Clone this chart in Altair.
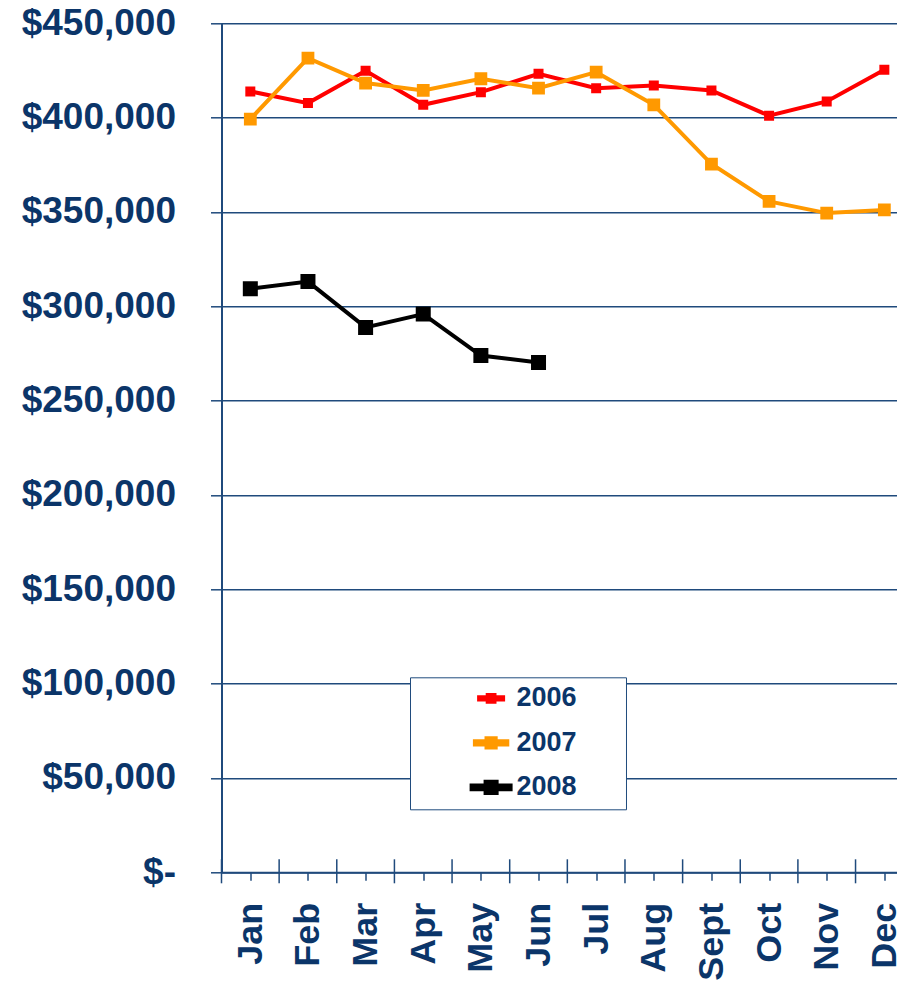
import json
import altair as alt
import pandas as pd

months = ["Jan", "Feb", "Mar", "Apr", "May", "Jun", "Jul", "Aug", "Sept", "Oct", "Nov", "Dec"]
years = ["2006", "2007", "2008"]
v2006 = [413900, 407700, 424800, 406800, 413500, 423200, 415600, 417000, 414400, 401000, 408600, 425400]
v2007 = [399200, 431500, 418300, 414400, 420600, 415600, 424100, 406800, 375400, 355600, 349400, 351100]
v2008 = [309300, 313100, 288800, 295900, 273900, 270200]
series_colors = ["#ff0000", "#ff9900", "#000000"]
line_widths = [4, 4, 2.5]
marker_sizes = [64, 169, 130]
y_ticks = [0, 50000, 100000, 150000, 200000, 250000, 300000, 350000, 400000, 450000]

rows = []
for yr, vals in zip(years, [v2006, v2007, v2008]):
    for i, v in enumerate(vals):
        rows.append({"mi": i, "month": months[i], "year": yr, "price": v})
df = pd.DataFrame(rows)
mdf = pd.DataFrame({"mi": list(range(len(months))), "month": months})

NAVY = "#0b3569"
GRID = "#1f4a7c"
FONT = "Liberation Sans"
PAD_L = 213.5
W, H = 889 - PAD_L, 849
STEP = 57.64  # pixel width of one month slot

xscale = alt.Scale(domain=[-0.5, W / STEP - 0.5], nice=False, zero=False)
xaxis = alt.Axis(title=None, values=list(range(len(months))),
                 labelExpr=json.dumps(months).replace('"', "'") + "[datum.value]",
                 labelAngle=270, labelFontSize=36, labelFont=FONT, labelFontWeight="bold",
                 labelColor=NAVY, labelPadding=22, tickSize=8, tickColor=GRID,
                 tickWidth=1.5, domainColor=GRID, domainWidth=2, grid=False)
yaxis = alt.Axis(title=None, values=y_ticks, labelExpr="datum.value == 0 ? '$-' : '$' + format(datum.value, ',')",
                 labelFontSize=37, labelFont=FONT, labelFontWeight="bold", labelColor=NAVY, labelPadding=35,
                 tickSize=11, tickColor=GRID, tickWidth=1.5, domainColor=GRID, domainWidth=2,
                 grid=True, gridColor=GRID, gridWidth=1.5)
yscale = alt.Scale(domain=[0, 450000], nice=False)

legend = alt.Legend(
    title="000", titleOrient="right", titleOpacity=0, titleFontSize=25, titlePadding=0,
    orient="none", legendX=188.5, legendY=654,
    symbolType=("M-3,-0.3H3V0.3H-3Z"
                "M-0.85,-0.85H0.85V0.85H-0.85Z"),
    symbolSize=400, symbolStrokeWidth=0.5,
    symbolOffset=60, labelOffset=12,
    labelFontSize=27, labelFont=FONT, labelFontWeight="bold", labelColor=NAVY,
    rowPadding=16.5, padding=7.6, fillColor="white", strokeColor=GRID,
)
cscale = alt.Scale(domain=years, range=series_colors)

x_enc = alt.X("mi:Q", scale=xscale, axis=xaxis)
y_enc = alt.Y("price:Q", scale=yscale, axis=yaxis)

lines = alt.Chart(df).mark_line().encode(
    x=x_enc, y=y_enc,
    stroke=alt.Stroke("year:N", scale=cscale, legend=legend),
    strokeWidth=alt.StrokeWidth("year:N", scale=alt.Scale(domain=years, range=line_widths), legend=None),
)
points = alt.Chart(df).mark_point(shape="square", opacity=1, fillOpacity=1).encode(
    x=x_enc, y=y_enc,
    fill=alt.Fill("year:N", scale=cscale, legend=None),
    stroke=alt.Stroke("year:N", scale=cscale, legend=None),
    size=alt.Size("year:N", scale=alt.Scale(domain=years, range=marker_sizes), legend=None),
)
# month-slot boundaries: tick marks that cross the x axis
major = alt.Chart(mdf).transform_calculate(edge="datum.mi - 0.5").mark_rule(
    color=GRID, strokeWidth=1.5).encode(
    x=alt.X("edge:Q", scale=xscale, axis=xaxis),
    y=alt.value(H - 13), y2=alt.value(H + 11),
)

chart = alt.layer(major, lines, points).properties(
    width=W, height=H,
    padding={"left": PAD_L, "top": 15.3, "right": 0, "bottom": 118},
    autosize=alt.AutoSizeParams(type="none"),
    background="white",
).configure_view(stroke=None)

chart.save("out.html", embed_options={"renderer": "svg", "actions": False})
